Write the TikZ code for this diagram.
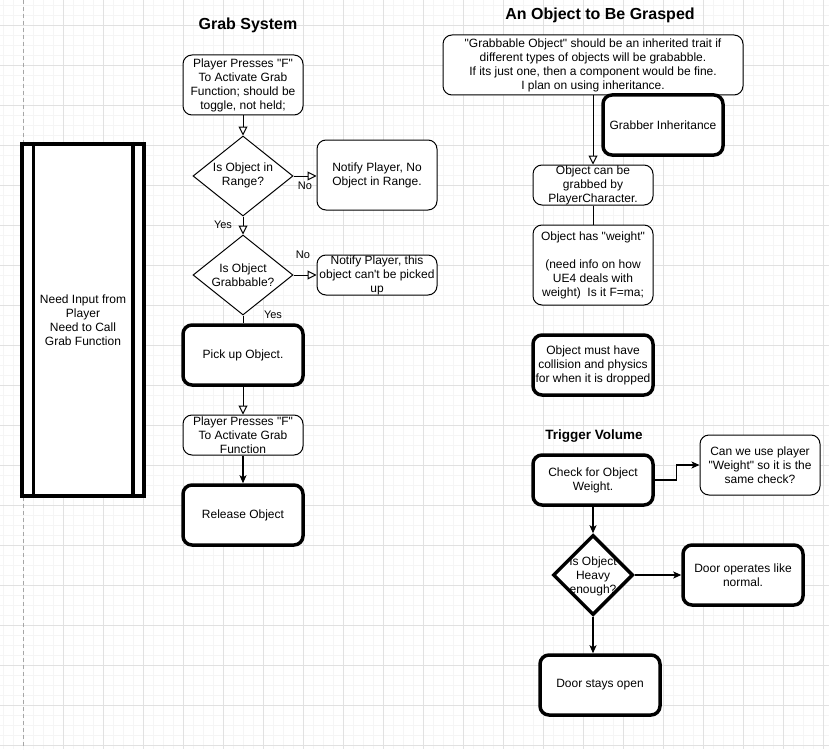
\documentclass[tikz,border=0pt]{standalone}
\usepackage{fontspec}
\setmainfont{Liberation Sans}
\usetikzlibrary{arrows.meta,shapes.geometric}
\definecolor{gmin}{HTML}{F5F5F5}
\definecolor{gmaj}{HTML}{E1E1E1}
\newcommand{\qd}{\textquotedbl}
\begin{document}
\begin{tikzpicture}[x=1pt,y=-1pt,
 txt/.style={font=\fontsize{12}{14}\selectfont, align=center, inner sep=0pt},
 thinbox/.style={txt, draw, line width=1pt, rounded corners=9pt, fill=white, minimum width=120pt},
 thickbox/.style={txt, draw, line width=3.5pt, rounded corners=9pt, fill=white, minimum width=120pt},
 dia/.style={diamond, draw, fill=white, inner sep=0pt},
 lbl/.style={font=\fontsize{11}{13}\selectfont, inner sep=0pt},
 ttl/.style={font=\fontsize{16}{18}\selectfont\bfseries, inner sep=0pt},
 conn/.style={line width=1pt},
 openarr/.style={conn, -{Triangle[length=9pt,width=9pt,fill=white]}},
 fillarr/.style={line width=1.2pt, -{Stealth[length=8pt,width=7pt,inset=2pt]}},
]
\useasboundingbox (0,0) rectangle (829,749);
\fill[white] (0,0) rectangle (829,749);
% grid
\foreach \x in {3,13,...,823} \draw[gmin, line width=0.8pt] (\x,0) -- (\x,749);
\foreach \y in {5,15,...,745} \draw[gmin, line width=0.8pt] (0,\y) -- (829,\y);
\foreach \x in {63,103,...,823} \draw[gmaj, line width=0.9pt] (\x,0) -- (\x,749);
\foreach \y in {25,65,...,745} \draw[gmaj, line width=0.9pt] (0,\y) -- (829,\y);
\draw[gray!70, line width=0.9pt, dash pattern=on 4pt off 3pt] (23,0) -- (23,749);

% titles
\node[ttl] (t1) at (248,25) {Grab System};
\node[ttl] (t2) at (600,15) {An Object to Be Grasped};
\node[ttl, font=\fontsize{13.5}{15}\selectfont\bfseries] (t3) at (594,436) {Trigger Volume};

% left process
\node[txt, draw, fill=white, line width=3.5pt, minimum width=122pt, minimum height=352pt] (inp) at (83,320) {Need Input from\\Player\\Need to Call\\Grab Function};
\draw[line width=3.5pt] ([xshift=13pt]inp.north west) -- ([xshift=13pt]inp.south west);
\draw[line width=3.5pt] ([xshift=-13pt]inp.north east) -- ([xshift=-13pt]inp.south east);

% grab system
\node[thinbox, minimum height=60pt] (b1) at (243,85) {Player Presses \qd F\qd\\To Activate Grab\\Function; should be\\toggle, not held;};
\node[dia, minimum width=100pt, minimum height=80pt, line width=1pt] (d1) at (243,176) {};
\node[txt] (d1t) at (243,175) {Is Object in\\Range?};
\node[thinbox, minimum height=70pt] (n1) at (377,175) {Notify Player, No\\Object in Range.};
\node[dia, minimum width=100pt, minimum height=80pt, line width=1pt] (d2) at (243,275) {};
\node[txt] (d2t) at (243,275) {Is Object\\Grabbable?};
\node[thinbox, minimum height=40pt] (n2) at (377,275) {Notify Player, this\\object can\textquotesingle t be picked\\up};
\node[thickbox, minimum height=60pt] (pick) at (243,355) {Pick up Object.};
\node[thinbox, minimum height=40pt] (b3) at (243,435) {Player Presses \qd F\qd\\To Activate Grab\\Function};
\node[thickbox, minimum height=60pt] (rel) at (243,515) {Release Object};

\draw[openarr] (b1.south) -- (d1.north);
\draw[openarr] (d1.east) -- (d1.east -| n1.west);
\node[lbl] (no1) at (305,186) {No};
\draw[openarr] (d1.south) -- (d2.north);
\node[lbl] (yes1) at (223,225) {Yes};
\draw[openarr] (d2.east) -- (d2.east -| n2.west);
\node[lbl] (no2) at (303,255) {No};
\draw[conn] (d2.south) -- (pick.north);
\node[lbl] (yes2) at (273,315) {Yes};
\draw[openarr] (pick.south) -- (b3.north);
\draw[fillarr] (b3.south) -- (rel.north);

% object to be grasped
\node[thinbox, minimum width=300pt, minimum height=60pt] (big) at (593,65) {\qd Grabbable Object\qd\ should be an inherited trait if\\different types of objects will be grababble.\\If its just one, then a component would be fine.\\I plan on using inheritance.};
\node[thickbox, minimum height=60pt] (inh) at (663,125) {Grabber Inheritance};
\node[thinbox, minimum height=40pt] (grab) at (593,185) {Object can be\\grabbed by\\PlayerCharacter.};
\node[thinbox, minimum height=80pt] (wt) at (593,265) {Object has \qd weight\qd\\[14pt](need info on how\\UE4 deals with\\weight)~~Is it F=ma;};
\node[thickbox, minimum height=60pt] (col) at (593,365) {Object must have\\collision and physics\\for when it is dropped};
\draw[openarr] (big.south) -- (grab.north);
\draw[conn] (grab.south) -- (wt.north);

% trigger volume
\node[thickbox, minimum height=50pt] (chk) at (593,480) {Check for Object\\Weight.};
\node[thinbox, minimum height=60pt] (can) at (760,465) {Can we use player\\\qd Weight\qd\ so it is the\\same check?};
\node[dia, minimum width=80pt, minimum height=80pt, line width=3.5pt] (heavy) at (593,575) {};
\node[txt] (heavyt) at (593,576) {Is Object\\Heavy\\enough?};
\node[thickbox, minimum height=60pt] (door) at (743,575) {Door operates like\\normal.};
\node[thickbox, minimum height=60pt] (open) at (600,685) {Door stays open};

\draw[fillarr] (chk.east) -- ++(22,0) |- (can.west);
\draw[fillarr] (chk.south) -- (heavy.north);
\draw[fillarr] (heavy.east) -- (door.west);
\draw[fillarr] (heavy.south) -- (heavy.south |- open.north);
\end{tikzpicture}
\end{document}
